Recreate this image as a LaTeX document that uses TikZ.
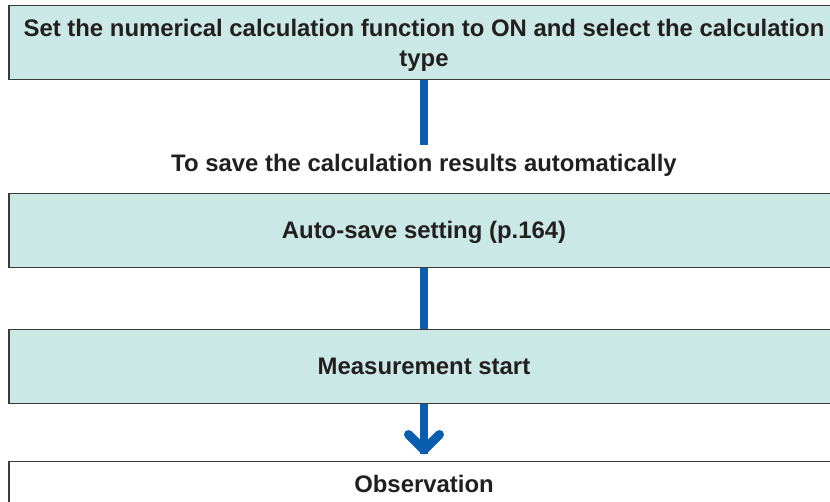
\documentclass[tikz,border=0pt]{standalone}
\usepackage{fontspec}
\setmainfont{Liberation Sans}
\usetikzlibrary{arrows.meta}
\definecolor{boxfill}{HTML}{C9E8E6}
\definecolor{flowblue}{HTML}{0B5DAF}
\definecolor{txt}{HTML}{231F20}
\definecolor{edge}{HTML}{3A3A3A}
\begin{document}
\begin{tikzpicture}[x=1pt,y=-1pt,
  stepbox/.style={draw=edge,line width=1.3pt,fill=boxfill,minimum width=830pt,minimum height=74pt,inner sep=0pt,
    text=txt,font=\bfseries\fontsize{23.9}{30.5}\selectfont,align=center,anchor=north,
    text height=17pt,text depth=0.4pt},
  plain/.style={stepbox,fill=white,minimum height=46pt},
  link/.style={flowblue,line width=8pt},
  lbl/.style={text=txt,font=\bfseries\fontsize{23.9}{28}\selectfont,inner sep=0pt}]
\useasboundingbox (0,0) rectangle (830,502);
\node[stepbox,text height=48pt,text depth=0pt] (b1) at (424,5) {Set the numerical calculation function to ON and select the calculation\\type};
\node[lbl,anchor=base] (t1) at (424,172) {To save the calculation results automatically};
\coordinate (c1) at (424,145);
\node[stepbox] (b2) at (424,193) {Auto-save setting (p.164)};
\node[stepbox] (b3) at (424,329) {Measurement start};
\node[plain] (b4) at (424,461) {Observation};
\draw[link] (b1.south) -- (c1);
\draw[link] (b2.south) -- (b3.north);
\coordinate (tip) at (424,450);
\draw[link] (b3.south) -- ([yshift=-4pt]tip);
\draw[flowblue,line width=9pt,line cap=round,line join=round] (408.5,434.5) -- (tip) -- (439.5,434.5);
\end{tikzpicture}
\end{document}
